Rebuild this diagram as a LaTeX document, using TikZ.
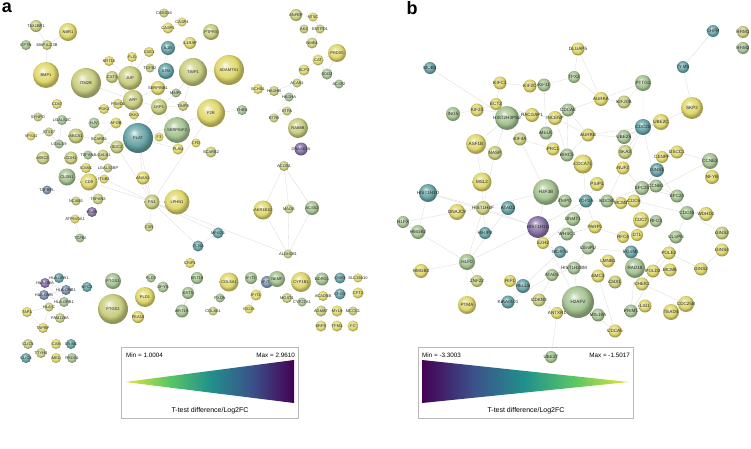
\documentclass[tikz,border=0pt]{standalone}
\usepackage{fontspec}
\setmainfont{Liberation Sans}
\usetikzlibrary{backgrounds}
% node colours (pale, as in the network)
\definecolor{cY}{RGB}{224,216,110}
\definecolor{cYG}{RGB}{202,206,128}
\definecolor{cG}{RGB}{166,196,146}
\definecolor{cT}{RGB}{104,164,166}
\definecolor{cB}{RGB}{122,146,172}
\definecolor{cP}{RGB}{136,116,166}
% viridis stops for the legends
\definecolor{v0}{RGB}{68,1,84}
\definecolor{v1}{RGB}{59,82,139}
\definecolor{v2}{RGB}{33,145,140}
\definecolor{v3}{RGB}{94,201,98}
\definecolor{v4}{RGB}{232,228,60}
\colorlet{gcol}{cY}
\pgfdeclareradialshading[gcol]{glossy}{\pgfqpoint{-7bp}{9bp}}{color(0bp)=(gcol!12!white); color(8bp)=(gcol!70!white); color(18bp)=(gcol); color(25bp)=(gcol!72!black); color(50bp)=(gcol!72!black)}
\pgfdeclarehorizontalshading{virA}{100bp}{color(0bp)=(v4); color(25bp)=(v4); color(37.5bp)=(v3); color(50bp)=(v2); color(62.5bp)=(v1); color(75bp)=(v0); color(100bp)=(v0)}
\pgfdeclarehorizontalshading{virB}{100bp}{color(0bp)=(v0); color(25bp)=(v0); color(37.5bp)=(v1); color(50bp)=(v2); color(62.5bp)=(v3); color(75bp)=(v4); color(100bp)=(v4)}
\begin{document}
\begin{tikzpicture}[x=1pt,y=-1pt,
  lbl/.style={font=\fontsize{4}{4}\selectfont,text=black!85,inner sep=0pt},
  g/.style n args={3}{circle,draw=none,inner sep=0pt,minimum size=#2pt,shading=glossy,
    /utils/exec={\colorlet{gcol}{c#1}},label={[lbl]center:#3}},
  ed/.style={draw=gray!30,line width=0.3pt},
  legbox/.style={draw=gray!55,line width=0.4pt},
  legtxt/.style={font=\fontsize{6.3}{7}\selectfont,inner sep=0pt},
  legcap/.style={font=\fontsize{7}{8}\selectfont,inner sep=0pt},
  panel/.style={font=\fontsize{18}{18}\selectfont\bfseries,inner sep=0pt}]
\useasboundingbox (0,0) rectangle (751,448);
%------------- panel (a)
\node[panel] (pa) at (7,8) {a};
\node[g={YG}{12}{TAX1BP1}] (TAX1BP1) at (36,26) {};
\node[g={Y}{18}{NBR1}] (NBR1) at (68,32) {};
\node[g={G}{10}{OPTN}] (OPTN) at (26,45) {};
\node[g={YG}{10}{MAP1LC3B}] (MAP1LC3B) at (47,45) {};
\node[g={Y}{26}{BMP1}] (BMP1) at (46,75) {};
\node[g={YG}{30}{ITM2B}] (ITM2B) at (86,83) {};
\node[g={Y}{10}{CD47}] (CD47) at (57,104) {};
\node[g={Y}{10}{KRT15}] (KRT15) at (109,61) {};
\node[g={Y}{10}{FLG}] (FLG) at (132,57) {};
\node[g={Y}{10}{CSE1}] (CSE1) at (149,52) {};
\node[g={YG}{12}{CST3}] (CST3) at (112,77) {};
\node[g={YG}{24}{JUP}] (JUP) at (130,78) {};
\node[g={YG}{9}{TGFB2}] (TGFB2) at (150,68) {};
\node[g={T}{16}{ATM}] (ATM) at (166,71) {};
\node[g={T}{14}{IL1B}] (IL1B) at (168,48) {};
\node[g={Y}{11}{CASP1}] (CASP1) at (168,28) {};
\node[g={YG}{9}{CARD16}] (CARD16) at (164,13) {};
\node[g={Y}{9}{CASP4}] (CASP4) at (182,22) {};
\node[g={Y}{14}{SERPINB1}] (SERPINB1) at (158,88) {};
\node[g={YG}{20}{APP}] (APP) at (133,100) {};
\node[g={Y}{10}{PSMD1}] (PSMD1) at (118,104) {};
\node[g={Y}{10}{PGK2}] (PGK2) at (104,109) {};
\node[g={YG}{16}{LRP1}] (LRP1) at (159,107) {};
\node[g={G}{9}{MMP1}] (MMP1) at (176,93) {};
\node[g={YG}{10}{TIMP3}] (TIMP3) at (183,106) {};
\node[g={Y}{9}{DKK1}] (DKK1) at (134,115) {};
\node[g={Y}{11}{APOB}] (APOB) at (116,123) {};
\node[g={G}{11}{HJV}] (HJV) at (94,123) {};
\node[g={YG}{9}{SYNPO}] (SYNPO) at (38,117) {};
\node[g={G}{10}{LGALS3C}] (LGALS3C) at (62,120) {};
\node[g={YG}{16}{PTPRS}] (PTPRS) at (211,32) {};
\node[g={Y}{12}{IL1RAP}] (IL1RAP) at (190,43) {};
\node[g={YG}{28}{TIMP1}] (TIMP1) at (193,72) {};
\node[g={Y}{30}{ADAMTS1}] (ADAMTS1) at (229,70) {};
\node[g={Y}{28}{F2R}] (F2R) at (211,113) {};
\node[g={G}{10}{THBD}] (THBD) at (242,110) {};
\node[g={YG}{12}{ANPEP}] (ANPEP) at (296,15) {};
\node[g={Y}{9}{NT5C}] (NT5C) at (313,17) {};
\node[g={YG}{9}{AK4}] (AK4) at (304,29) {};
\node[g={YG}{9}{ENTPD1}] (ENTPD1) at (320,29) {};
\node[g={YG}{11}{NME4}] (NME4) at (312,43) {};
\node[g={Y}{18}{PRDX5}] (PRDX5) at (337,53) {};
\node[g={Y}{11}{CAT}] (CAT) at (318,60) {};
\node[g={Y}{11}{SCP2}] (SCP2) at (304,70) {};
\node[g={G}{11}{SOD2}] (SOD2) at (327,74) {};
\node[g={G}{9}{ACSF2}] (ACSF2) at (339,84) {};
\node[g={YG}{9}{ACAA1}] (ACAA1) at (297,83) {};
\node[g={Y}{10}{ECHS1}] (ECHS1) at (258,89) {};
\node[g={YG}{10}{HADHB}] (HADHB) at (274,91) {};
\node[g={G}{9}{HADHA}] (HADHA) at (289,97) {};
\node[g={YG}{9}{ETFA}] (ETFA) at (287,111) {};
\node[g={YG}{9}{ETFB}] (ETFB) at (274,118) {};
\node[g={YG}{20}{RAB8B}] (RAB8B) at (298,128) {};
\node[g={Y}{9}{VPS41}] (VPS41) at (31,136) {};
\node[g={YG}{9}{STX17}] (STX17) at (49,132) {};
\node[g={G}{9}{LGALS9}] (LGALS9) at (59,144) {};
\node[g={YG}{15}{ABCA1}] (ABCA1) at (76,136) {};
\node[g={YG}{11}{SCARB1}] (SCARB1) at (99,139) {};
\node[g={YG}{13}{SDC2}] (SDC2) at (117,147) {};
\node[g={T}{30}{PLAT}] (PLAT) at (138,138) {};
\node[g={Y}{9}{F3}] (F3) at (159,137) {};
\node[g={G}{26}{SERPINF2}] (SERPINF2) at (177,130) {};
\node[g={Y}{11}{PLAU}] (PLAU) at (178,149) {};
\node[g={YG}{13}{MRC2}] (MRC2) at (43,158) {};
\node[g={YG}{13}{CDH1}] (CDH1) at (71,158) {};
\node[g={G}{9}{TSPAN4}] (TSPAN4) at (88,155) {};
\node[g={YG}{11}{LGALS1}] (LGALS1) at (103,155) {};
\node[g={Y}{10}{ICAM1}] (ICAM1) at (86,168) {};
\node[g={YG}{9}{LGALS3BP}] (LGALS3BP) at (108,168) {};
\node[g={Y}{9}{ITGB1}] (ITGB1) at (104,179) {};
\node[g={Y}{13}{ANXA2}] (ANXA2) at (143,178) {};
\node[g={G}{17}{CLDN1}] (CLDN1) at (67,177) {};
\node[g={Y}{17}{CD9}] (CD9) at (89,182) {};
\node[g={B}{9}{TAPBPL}] (TAPBPL) at (47,190) {};
\node[g={YG}{15}{FN1}] (FN1) at (152,202) {};
\node[g={Y}{25}{LPHN1}] (LPHN1) at (177,202) {};
\node[g={YG}{11}{TSPAN3}] (TSPAN3) at (98,199) {};
\node[g={YG}{9}{NCAM1}] (NCAM1) at (76,201) {};
\node[g={P}{10}{PSAP}] (PSAP) at (92,212) {};
\node[g={Y}{9}{ATP6V0A1}] (ATP6V0A1) at (75,219) {};
\node[g={G}{9}{TGFBI}] (TGFBI) at (80,238) {};
\node[g={YG}{9}{CSN}] (CSN) at (149,227) {};
\node[g={Y}{9}{CFD}] (CFD) at (196,143) {};
\node[g={YG}{11}{SCARB2}] (SCARB2) at (211,152) {};
\node[g={P}{13}{DNASE2A}] (DNASE2A) at (301,149) {};
\node[g={YG}{10}{ACOX1}] (ACOX1) at (284,166) {};
\node[g={Y}{19}{AKR1B10}] (AKR1B10) at (263,210) {};
\node[g={YG}{9}{MAOA}] (MAOA) at (289,209) {};
\node[g={G}{14}{ACSS2}] (ACSS2) at (312,208) {};
\node[g={T}{11}{MPEG1}] (MPEG1) at (218,233) {};
\node[g={T}{11}{TCN2}] (TCN2) at (198,246) {};
\node[g={YG}{9}{ALDH1B1}] (ALDH1B1) at (288,254) {};
\node[g={Y}{10}{CRIP1}] (CRIP1) at (190,263) {};
\node[g={T}{10}{HLA-DPA1}] (HLADPA1) at (59,278) {};
\node[g={P}{10}{HLA-DRA}] (HLADRA) at (45,283) {};
\node[g={B}{10}{HLA-DRB1}] (HLADRB1) at (66,290) {};
\node[g={B}{10}{HLA-DMB}] (HLADMB) at (44,295) {};
\node[g={G}{10}{HLA-DPB1}] (HLADPB1) at (64,302) {};
\node[g={YG}{9}{HLA-C}] (HLAC) at (49,307) {};
\node[g={Y}{10}{TAP1}] (TAP1) at (27,312) {};
\node[g={YG}{10}{FAM129A}] (FAM129A) at (60,318) {};
\node[g={Y}{10}{TAPBP}] (TAPBP) at (43,328) {};
\node[g={T}{10}{NPC2}] (NPC2) at (87,287) {};
\node[g={G}{16}{PTGS1}] (PTGS1) at (113,281) {};
\node[g={YG}{30}{PTGS2}] (PTGS2) at (113,309) {};
\node[g={Y}{20}{PLD1}] (PLD1) at (145,297) {};
\node[g={G}{9}{PLD3}] (PLD3) at (151,278) {};
\node[g={G}{11}{DPYS}] (DPYS) at (163,287) {};
\node[g={Y}{12}{PEA15}] (PEA15) at (138,317) {};
\node[g={G}{13}{KRT19}] (KRT19) at (182,311) {};
\node[g={G}{12}{KRT18}] (KRT18) at (197,278) {};
\node[g={G}{12}{KRT5}] (KRT5) at (188,293) {};
\node[g={Y}{19}{COL5A1}] (COL5A1) at (229,282) {};
\node[g={G}{9}{PXDN}] (PXDN) at (220,298) {};
\node[g={YG}{9}{COL8A1}] (COL8A1) at (213,311) {};
\node[g={G}{12}{IFIT3}] (IFIT3) at (251,278) {};
\node[g={B}{12}{IFIT2}] (IFIT2) at (267,282) {};
\node[g={Y}{11}{IFIT1}] (IFIT1) at (256,295) {};
\node[g={Y}{9}{ISG15}] (ISG15) at (249,309) {};
\node[g={G}{16}{NEMF}] (NEMF) at (277,279) {};
\node[g={Y}{20}{CYP1B1}] (CYP1B1) at (301,282) {};
\node[g={YG}{10}{MGST1}] (MGST1) at (287,298) {};
\node[g={G}{9}{CYP27A1}] (CYP27A1) at (302,302) {};
\node[g={G}{13}{NDRG1}] (NDRG1) at (322,279) {};
\node[g={T}{11}{CRB3}] (CRB3) at (340,278) {};
\node[g={Y}{9}{SLC39A10}] (SLC39A10) at (358,278) {};
\node[g={Y}{10}{ACADSB}] (ACADSB) at (323,296) {};
\node[g={T}{11}{CPOX}] (CPOX) at (340,294) {};
\node[g={Y}{11}{CPT2}] (CPT2) at (358,293) {};
\node[g={YG}{11}{AGMAT}] (AGMAT) at (321,311) {};
\node[g={Y}{11}{MYL9}] (MYL9) at (337,311) {};
\node[g={YG}{9}{MCCC1}] (MCCC1) at (353,311) {};
\node[g={Y}{11}{SRPX}] (SRPX) at (321,326) {};
\node[g={Y}{11}{TPM1}] (TPM1) at (337,326) {};
\node[g={Y}{11}{PC}] (PC) at (353,326) {};
\node[g={YG}{10}{CLIC5}] (CLIC5) at (28,344) {};
\node[g={Y}{10}{CA8}] (CA8) at (56,344) {};
\node[g={T}{10}{CRIM1}] (CRIM1) at (71,344) {};
\node[g={YG}{10}{TTYH3}] (TTYH3) at (41,353) {};
\node[g={T}{10}{CLIC3}] (CLIC3) at (26,358) {};
\node[g={Y}{10}{ME1}] (ME1) at (56,358) {};
\node[g={G}{10}{PRDX1}] (PRDX1) at (72,358) {};
\begin{pgfonlayer}{background}
\draw[ed] (TAX1BP1) -- (MAP1LC3B) (OPTN) -- (MAP1LC3B) (NBR1) -- (MAP1LC3B) (MAP1LC3B) -- (BMP1);
\draw[ed] (ITM2B) -- (APP) (JUP) -- (APP) (JUP) -- (KRT15) (JUP) -- (FLG) (JUP) -- (CSE1);
\draw[ed] (APP) -- (LRP1) (APP) -- (CST3) (APP) -- (PSMD1) (APP) -- (DKK1) (APP) -- (PLAT) (APP) -- (SERPINB1) (APP) -- (PGK2);
\draw[ed] (LRP1) -- (PLAT) (LRP1) -- (MMP1) (LRP1) -- (TIMP3) (LRP1) -- (SERPINF2) (LRP1) -- (SERPINB1) (LRP1) -- (ATM);
\draw[ed] (PLAT) -- (SERPINF2) (PLAT) -- (F3) (PLAT) -- (FN1) (PLAT) -- (SDC2) (PLAT) -- (PLAU) (PLAT) -- (ANXA2);
\draw[ed] (SERPINF2) -- (PLAU) (SERPINF2) -- (TIMP3) (TIMP1) -- (MMP1) (TIMP1) -- (TIMP3) (TIMP1) -- (ADAMTS1);
\draw[ed] (F2R) -- (THBD) (F2R) -- (PLAT) (F2R) -- (FN1) (ATM) -- (TGFB2) (ATM) -- (IL1B);
\draw[ed] (IL1B) -- (CASP1) (CASP1) -- (CARD16) (CASP1) -- (CASP4) (IL1B) -- (IL1RAP) (IL1B) -- (SERPINB1);
\draw[ed] (FN1) -- (LPHN1) (FN1) -- (ANXA2) (FN1) -- (ITGB1) (FN1) -- (CSN) (FN1) -- (SDC2) (FN1) -- (TCN2) (FN1) -- (MPEG1) (FN1) -- (CD9) (FN1) -- (ALDH1B1);
\draw[ed] (SDC2) -- (LGALS1) (SDC2) -- (SCARB1) (CD9) -- (ITGB1) (CD9) -- (TSPAN3) (CD9) -- (LGALS3BP) (CD9) -- (ICAM1) (CD9) -- (TSPAN4);
\draw[ed] (ITGB1) -- (LGALS3BP) (LGALS1) -- (LGALS3BP) (APOB) -- (SCARB1) (ABCA1) -- (SCARB1) (APOB) -- (HJV);
\draw[ed] (STX17) -- (VPS41) (STX17) -- (LGALS9) (LGALS3C) -- (LGALS9) (CLDN1) -- (CD9) (ATP6V0A1) -- (PSAP) (TGFBI) -- (ATP6V0A1);
\draw[ed] (ACOX1) -- (AKR1B10) (ACOX1) -- (MAOA) (ACOX1) -- (ACSS2) (AKR1B10) -- (ALDH1B1) (MAOA) -- (ALDH1B1) (ACSS2) -- (ALDH1B1);
\draw[ed] (ECHS1) -- (HADHB) (HADHB) -- (HADHA) (HADHA) -- (ACAA1) (HADHB) -- (ACAA1) (ACAA1) -- (SCP2) (SCP2) -- (CAT);
\draw[ed] (CAT) -- (PRDX5) (CAT) -- (SOD2) (SOD2) -- (PRDX5) (ETFA) -- (ETFB) (ETFB) -- (HADHA);
\draw[ed] (ANPEP) -- (NT5C) (AK4) -- (ENTPD1) (ENTPD1) -- (NT5C) (NME4) -- (AK4) (NME4) -- (ENTPD1);
\draw[ed] (HLADPA1) -- (HLADRA) (HLADRA) -- (HLADRB1) (HLADRA) -- (HLADMB) (HLADMB) -- (HLADRB1) (HLADPB1) -- (HLADRA) (HLADPB1) -- (HLADPA1);
\draw[ed] (HLADRB1) -- (HLADPB1) (HLADPA1) -- (HLADRB1) (HLADMB) -- (HLADPB1) (HLAC) -- (HLADMB) (HLAC) -- (TAP1) (HLAC) -- (TAPBP) (TAP1) -- (TAPBP);
\draw[ed] (PTGS1) -- (PTGS2) (KRT18) -- (KRT5) (KRT5) -- (KRT19) (KRT18) -- (KRT19) (IFIT3) -- (IFIT2) (IFIT2) -- (IFIT1) (IFIT3) -- (IFIT1) (IFIT1) -- (ISG15);
\draw[ed] (TCN2) -- (MPEG1) (MGST1) -- (CYP27A1);
\end{pgfonlayer}
%------------- legend (a)
\draw[legbox] (121,347) rectangle (298,418);
\shade[shading=virA] (125,382) -- (294,360) -- (294,403) -- cycle;
\node[legtxt,anchor=west] (minA) at (126,355) {Min = 1.0004};
\node[legtxt,anchor=east] (maxA) at (295,355) {Max = 2.9610};
\node[legcap] (capA) at (210,411) {T-test difference/Log2FC};
%------------- panel (b)
\begin{scope}[lbl/.append style={font=\fontsize{4.6}{5}\selectfont}]
\node[panel] (pb) at (412,8) {b};
\node[g={T}{12}{MOB3}] (MOB3) at (430,68) {};
\node[g={Y}{13}{KIFC1}] (KIFC1) at (500,83) {};
\node[g={Y}{13}{KIF2C}] (KIF2C) at (530,86) {};
\node[g={G}{13}{KIF11}] (KIF11) at (544,85) {};
\node[g={Y}{13}{DLGAP5}] (DLGAP5) at (578,49) {};
\node[g={T}{12}{CHFR}] (CHFR) at (713,31) {};
\node[g={YG}{12}{RRM1}] (RRM1) at (743,32) {};
\node[g={G}{12}{RRM2}] (RRM2) at (743,48) {};
\node[g={T}{12}{TYMS}] (TYMS) at (683,67) {};
\node[g={G}{12}{TPX2}] (TPX2) at (574,77) {};
\node[g={G}{16}{PTTG1}] (PTTG1) at (643,83) {};
\node[g={Y}{14}{AURKA}] (AURKA) at (601,99) {};
\node[g={YG}{13}{KIF20B}] (KIF20B) at (624,102) {};
\node[g={Y}{22}{SKP2}] (SKP2) at (692,108) {};
\node[g={Y}{12}{ECT2}] (ECT2) at (496,104) {};
\node[g={Y}{13}{KIF23}] (KIF23) at (477,110) {};
\node[g={G}{14}{ING5}] (ING5) at (453,114) {};
\node[g={G}{24}{HIST2H3PS2}] (HIST2H3PS2) at (507,118) {};
\node[g={Y}{14}{RACGAP1}] (RACGAP1) at (532,115) {};
\node[g={Y}{14}{INCENP}] (INCENP) at (555,118) {};
\node[g={G}{13}{CDCA8}] (CDCA8) at (568,110) {};
\node[g={Y}{16}{UBE2C}] (UBE2C) at (661,122) {};
\node[g={T}{16}{CDC20}] (CDC20) at (643,127) {};
\node[g={Y}{13}{AURKB}] (AURKB) at (588,135) {};
\node[g={G}{14}{UBE2S}] (UBE2S) at (624,137) {};
\node[g={YG}{13}{KIF4A}] (KIF4A) at (520,139) {};
\node[g={G}{13}{MELK}] (MELK) at (546,133) {};
\node[g={Y}{20}{ASF1B}] (ASF1B) at (476,144) {};
\node[g={YG}{14}{NASP}] (NASP) at (495,153) {};
\node[g={Y}{13}{PRC1}] (PRC1) at (553,149) {};
\node[g={YG}{14}{SKA3}] (SKA3) at (625,152) {};
\node[g={Y}{13}{DSCC1}] (DSCC1) at (677,152) {};
\node[g={Y}{12}{CENPF}] (CENPF) at (662,157) {};
\node[g={G}{13}{BIRC5}] (BIRC5) at (567,155) {};
\node[g={Y}{19}{CDCA7L}] (CDCA7L) at (583,164) {};
\node[g={G}{16}{CCNE2}] (CCNE2) at (710,161) {};
\node[g={T}{14}{GINS1}] (GINS1) at (657,170) {};
\node[g={Y}{13}{NUF2}] (NUF2) at (623,168) {};
\node[g={Y}{14}{NFYB}] (NFYB) at (712,177) {};
\node[g={Y}{19}{MSL2}] (MSL2) at (482,182) {};
\node[g={Y}{14}{PSIP1}] (PSIP1) at (597,184) {};
\node[g={G}{13}{CCNB1}] (CCNB1) at (656,186) {};
\node[g={G}{14}{SPC25}] (SPC25) at (642,188) {};
\node[g={G}{26}{H3F3B}] (H3F3B) at (546,192) {};
\node[g={T}{18}{HIST1H1D}] (HIST1H1D) at (428,193) {};
\node[g={G}{13}{SPC24}] (SPC24) at (677,196) {};
\node[g={G}{13}{TMPO}] (TMPO) at (565,201) {};
\node[g={T}{13}{TOP2A}] (TOP2A) at (586,201) {};
\node[g={G}{13}{NDC80}] (NDC80) at (607,201) {};
\node[g={Y}{12}{MCM4}] (MCM4) at (621,203) {};
\node[g={Y}{13}{CDC6}] (CDC6) at (634,201) {};
\node[g={YG}{14}{HIST1H4F}] (HIST1H4F) at (483,208) {};
\node[g={T}{14}{ATAD2}] (ATAD2) at (508,208) {};
\node[g={Y}{16}{DNAJC9}] (DNAJC9) at (457,212) {};
\node[g={G}{14}{CDC45}] (CDC45) at (687,213) {};
\node[g={Y}{14}{WDHD1}] (WDHD1) at (706,214) {};
\node[g={G}{14}{DNMT1}] (DNMT1) at (573,219) {};
\node[g={Y}{16}{CDC7}] (CDC7) at (641,220) {};
\node[g={G}{12}{RFC3}] (RFC3) at (656,221) {};
\node[g={G}{12}{H1FX}] (H1FX) at (403,222) {};
\node[g={P}{22}{HIST1H1C}] (HIST1H1C) at (538,227) {};
\node[g={Y}{13}{PARP1}] (PARP1) at (595,227) {};
\node[g={G}{14}{HMGB2}] (HMGB2) at (418,232) {};
\node[g={T}{12}{HIRIP3}] (HIRIP3) at (485,233) {};
\node[g={G}{13}{WHSC1}] (WHSC1) at (567,234) {};
\node[g={Y}{12}{DTL}] (DTL) at (637,235) {};
\node[g={Y}{12}{RFC4}] (RFC4) at (623,237) {};
\node[g={G}{13}{CLSPN}] (CLSPN) at (676,237) {};
\node[g={YG}{13}{GINS3}] (GINS3) at (722,233) {};
\node[g={Y}{12}{EZH2}] (EZH2) at (543,243) {};
\node[g={G}{13}{CENPU}] (CENPU) at (588,248) {};
\node[g={Y}{13}{GINS4}] (GINS4) at (722,250) {};
\node[g={T}{13}{FOXM1}] (FOXM1) at (631,252) {};
\node[g={Y}{13}{POLE2}] (POLE2) at (669,253) {};
\node[g={T}{12}{WDR76}] (WDR76) at (560,252) {};
\node[g={Y}{13}{LMNB1}] (LMNB1) at (608,261) {};
\node[g={G}{16}{H1F0}] (H1F0) at (467,262) {};
\node[g={G}{20}{RAD18}] (RAD18) at (635,268) {};
\node[g={G}{13}{HIST1H2BM}] (HIST1H2BM) at (574,268) {};
\node[g={Y}{13}{GINS2}] (GINS2) at (701,269) {};
\node[g={Y}{13}{MCM6}] (MCM6) at (670,270) {};
\node[g={Y}{13}{POLD3}] (POLD3) at (653,271) {};
\node[g={Y}{14}{HMGB3}] (HMGB3) at (421,271) {};
\node[g={G}{12}{ATAD5}] (ATAD5) at (552,275) {};
\node[g={Y}{13}{SMC3}] (SMC3) at (598,276) {};
\node[g={YG}{12}{ZNF22}] (ZNF22) at (477,281) {};
\node[g={Y}{12}{RIF1}] (RIF1) at (510,281) {};
\node[g={YG}{13}{CBX1}] (CBX1) at (615,282) {};
\node[g={Y}{13}{CHEK1}] (CHEK1) at (642,284) {};
\node[g={T}{14}{HELLS}] (HELLS) at (523,286) {};
\node[g={YG}{13}{CDKN3}] (CDKN3) at (539,300) {};
\node[g={T}{13}{KIAA0101}] (KIAA0101) at (508,302) {};
\node[g={G}{32}{H2AFV}] (H2AFV) at (578,302) {};
\node[g={Y}{16}{CDC25B}] (CDC25B) at (686,304) {};
\node[g={Y}{18}{PTMA}] (PTMA) at (467,305) {};
\node[g={Y}{13}{LIG1}] (LIG1) at (645,306) {};
\node[g={G}{13}{PRIM1}] (PRIM1) at (631,311) {};
\node[g={Y}{16}{TEAD4}] (TEAD4) at (671,312) {};
\node[g={Y}{12}{ANTXR1}] (ANTXR1) at (557,313) {};
\node[g={G}{13}{MIS18A}] (MIS18A) at (598,315) {};
\node[g={Y}{13}{CDCA5}] (CDCA5) at (615,331) {};
\node[g={G}{12}{UBE2T}] (UBE2T) at (551,357) {};
\begin{pgfonlayer}{background}
\draw[ed] (KIFC1) -- (KIF2C) (KIF2C) -- (KIF11) (KIFC1) -- (ECT2) (ECT2) -- (KIF23) (ECT2) -- (RACGAP1) (KIF23) -- (RACGAP1) (KIF23) -- (ING5);
\draw[ed] (ECT2) -- (HIST2H3PS2) (RACGAP1) -- (INCENP) (INCENP) -- (CDCA8) (CDCA8) -- (AURKB) (AURKB) -- (INCENP) (AURKB) -- (BIRC5);
\draw[ed] (BIRC5) -- (CDCA8) (INCENP) -- (BIRC5) (KIF11) -- (TPX2) (TPX2) -- (AURKA) (AURKA) -- (DLGAP5) (DLGAP5) -- (TPX2) (AURKA) -- (CDCA8);
\draw[ed] (AURKA) -- (KIF20B) (KIF20B) -- (PTTG1) (PTTG1) -- (CDC20) (CDC20) -- (UBE2C) (UBE2C) -- (SKP2) (SKP2) -- (TYMS) (TYMS) -- (CHFR);
\draw[ed] (CDC20) -- (UBE2S) (UBE2S) -- (UBE2C) (CDC20) -- (SKA3) (SKA3) -- (NUF2) (NUF2) -- (SPC25) (SPC25) -- (SPC24) (NDC80) -- (NUF2) (NDC80) -- (SPC25);
\draw[ed] (CCNB1) -- (CDC20) (CCNB1) -- (SPC25) (CENPF) -- (CCNB1) (DSCC1) -- (CCNE2) (CCNE2) -- (NFYB) (CCNE2) -- (CDC6) (CDC6) -- (CDC45);
\draw[ed] (CDC45) -- (WDHD1) (CDC45) -- (GINS1) (GINS1) -- (CDC6) (CDC6) -- (CDC7) (CDC7) -- (DTL) (CDC7) -- (RFC3) (DTL) -- (RFC4);
\draw[ed] (CLSPN) -- (CDC45) (CLSPN) -- (CHEK1) (GINS3) -- (CDC45) (GINS3) -- (GINS4) (GINS4) -- (GINS2) (GINS2) -- (POLE2) (POLE2) -- (MCM6);
\draw[ed] (MCM6) -- (POLD3) (POLD3) -- (RAD18) (RAD18) -- (CHEK1) (CHEK1) -- (CDC25B) (LIG1) -- (PRIM1) (PRIM1) -- (POLE2) (PRIM1) -- (RAD18);
\draw[ed] (RAD18) -- (FOXM1) (FOXM1) -- (CENPU) (LMNB1) -- (SMC3) (SMC3) -- (CDCA5) (CDCA5) -- (H2AFV) (H2AFV) -- (MIS18A) (H2AFV) -- (HIST1H2BM);
\draw[ed] (H2AFV) -- (ANTXR1) (ANTXR1) -- (UBE2T) (HIST1H1C) -- (H3F3B) (H3F3B) -- (HIST1H4F) (HIST1H4F) -- (ATAD2) (HIST1H4F) -- (DNAJC9);
\draw[ed] (HIST1H4F) -- (HIST1H1D) (HIST1H4F) -- (MSL2) (HIST1H4F) -- (HIRIP3) (HIST1H4F) -- (HIST1H1C) (H1FX) -- (DNAJC9) (H1FX) -- (HMGB2);
\draw[ed] (HMGB2) -- (HIST1H1D) (H1F0) -- (HMGB3) (H1F0) -- (PTMA) (H1F0) -- (HIST1H4F) (H1F0) -- (HIST1H1C) (H1F0) -- (HMGB2);
\draw[ed] (ASF1B) -- (NASP) (ASF1B) -- (MSL2) (NASP) -- (HIST1H4F) (NASP) -- (HIST2H3PS2) (ASF1B) -- (HIST2H3PS2) (KIF4A) -- (HIST2H3PS2);
\draw[ed] (KIF4A) -- (PRC1) (PRC1) -- (MELK) (MELK) -- (KIF11) (H3F3B) -- (KIF4A) (H3F3B) -- (TMPO) (TMPO) -- (TOP2A) (TOP2A) -- (NDC80);
\draw[ed] (TOP2A) -- (DNMT1) (TOP2A) -- (PARP1) (TOP2A) -- (CDCA7L) (PSIP1) -- (TOP2A) (DNMT1) -- (WHSC1) (DNMT1) -- (EZH2) (EZH2) -- (HIST1H1C);
\draw[ed] (EZH2) -- (WDR76) (WDR76) -- (HELLS) (HELLS) -- (RIF1) (HELLS) -- (KIAA0101) (KIAA0101) -- (ATAD5) (ATAD5) -- (HIST1H2BM) (CDKN3) -- (ATAD5);
\draw[ed] (ANTXR1) -- (CDKN3) (HIST1H2BM) -- (CENPU) (PARP1) -- (RFC4) (PARP1) -- (WHSC1) (MCM4) -- (CDC6) (MCM4) -- (NDC80) (BIRC5) -- (CDCA7L);
\draw[ed] (AURKB) -- (UBE2S) (CDC20) -- (AURKB) (TOP2A) -- (HIST1H1C) (MOB3) -- (HIST2H3PS2) (HIST1H1C) -- (H2AFV) (TOP2A) -- (CDC6);
\draw[ed] (H1F0) -- (ZNF22) (H1F0) -- (ATAD2) (HIST1H1D) -- (HIST1H1C) (PTTG1) -- (AURKA) (CDC20) -- (NUF2) (SPC24) -- (CCNB1);
\end{pgfonlayer}
\end{scope}
%------------- legend (b)
\draw[legbox] (418,347) rectangle (633,418);
\shade[shading=virB] (422,360) -- (629,382) -- (422,403) -- cycle;
\node[legtxt,anchor=west] (minB) at (422,355) {Min = -3.3003};
\node[legtxt,anchor=east] (maxB) at (630,355) {Max = -1.5017};
\node[legcap] (capB) at (526,411) {T-test difference/Log2FC};
\end{tikzpicture}
\end{document}
